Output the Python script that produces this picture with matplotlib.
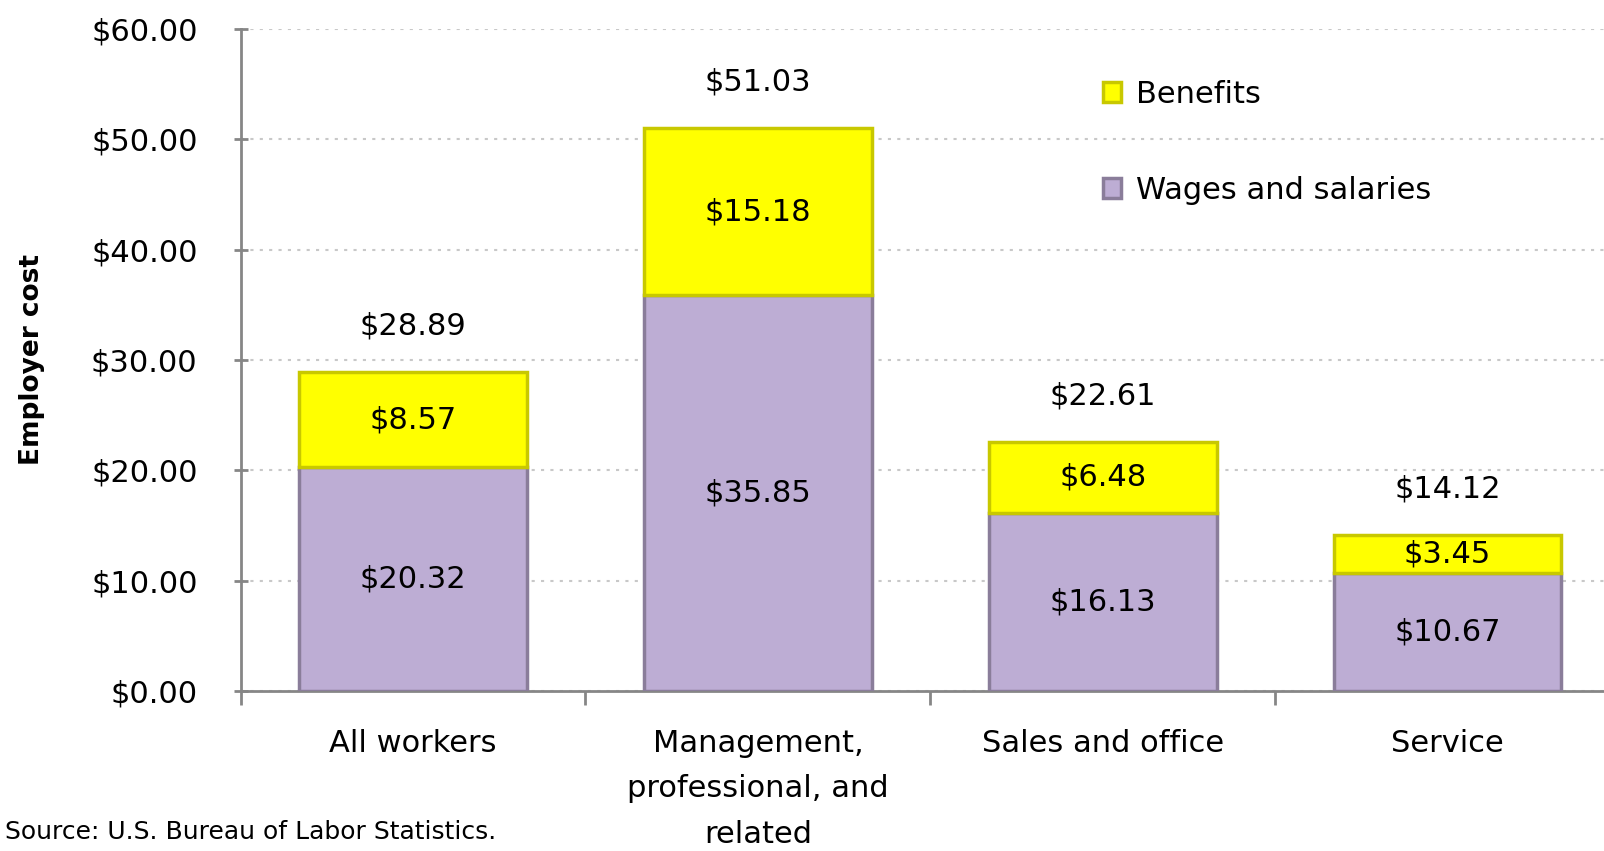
import matplotlib.pyplot as plt

plt.rcParams['font.family'] = ['DejaVu Sans']

categories = ['All workers', 'Management,\nprofessional, and\nrelated', 'Sales and office', 'Service']
wages = [20.32, 35.85, 16.13, 10.67]
benefits = [8.57, 15.18, 6.48, 3.45]
totals = [28.89, 51.03, 22.61, 14.12]
yticks = [0, 10, 20, 30, 40, 50, 60]

fig = plt.figure(figsize=(16.04, 8.51), dpi=100)
ax = fig.add_axes([0.150, 0.188, 0.860, 0.778])

x = list(range(len(categories)))
w = 0.66
purple = '#bdadd4'
yellow = '#ffff00'
fs = 22

bw = ax.bar(x, wages, w, color=purple, edgecolor='#8a7d9a', linewidth=2.5,
            label='Wages and salaries', zorder=3)
bb = ax.bar(x, benefits, w, bottom=wages, color=yellow, edgecolor='#c8c800',
            linewidth=2.5, label='Benefits', zorder=3)

# segment labels
for i in x:
    ax.text(i, wages[i] / 2, '$%.2f' % wages[i], ha='center', va='center',
            fontsize=fs, zorder=4)
    ax.text(i, wages[i] + benefits[i] / 2, '$%.2f' % benefits[i], ha='center',
            va='center', fontsize=fs, zorder=4)
    ax.annotate('$%.2f' % totals[i], (i, totals[i]), xytext=(0, 33),
                textcoords='offset points', ha='center', va='center', fontsize=fs)

ax.set_xlim(-0.5, 3.5)
ax.set_ylim(0, 60)
ax.set_yticks(yticks)
ax.set_yticklabels(['$%.2f' % v for v in yticks], fontsize=fs)
ax.set_xticks(x)
ax.set_xticklabels(categories, fontsize=fs, linespacing=1.72, va='top')
ax.tick_params(axis='x', length=0, pad=27)
ax.set_xticks([-0.5, 0.5, 1.5, 2.5, 3.5], minor=True)
ax.tick_params(axis='x', which='minor', length=10, width=2, color='#868686', direction='out')
ax.tick_params(axis='y', length=10, width=2, color='#868686', direction='inout', pad=26)

ax.grid(axis='y', linestyle=(0, (1.5, 3)), color='#c8c8c8', linewidth=1.5, zorder=0)
for s in ['top', 'right']:
    ax.spines[s].set_visible(False)
for s in ['left', 'bottom']:
    ax.spines[s].set_color('#868686')
    ax.spines[s].set_linewidth(2)

ax.set_ylabel('Employer cost', fontsize=19, fontweight='bold')
ax.yaxis.set_label_coords(-0.142, 0.5)

leg = ax.legend(handles=[bb, bw], loc='upper left', bbox_to_anchor=(0.605, 0.965),
                frameon=False, fontsize=fs, labelspacing=2.2, handlelength=0.6,
                handleheight=0.6, handletextpad=0.5)

fig.text(0.003, 0.022, 'Source: U.S. Bureau of Labor Statistics.', fontsize=18, ha='left', va='center')

plt.savefig('out.png', dpi=100)
